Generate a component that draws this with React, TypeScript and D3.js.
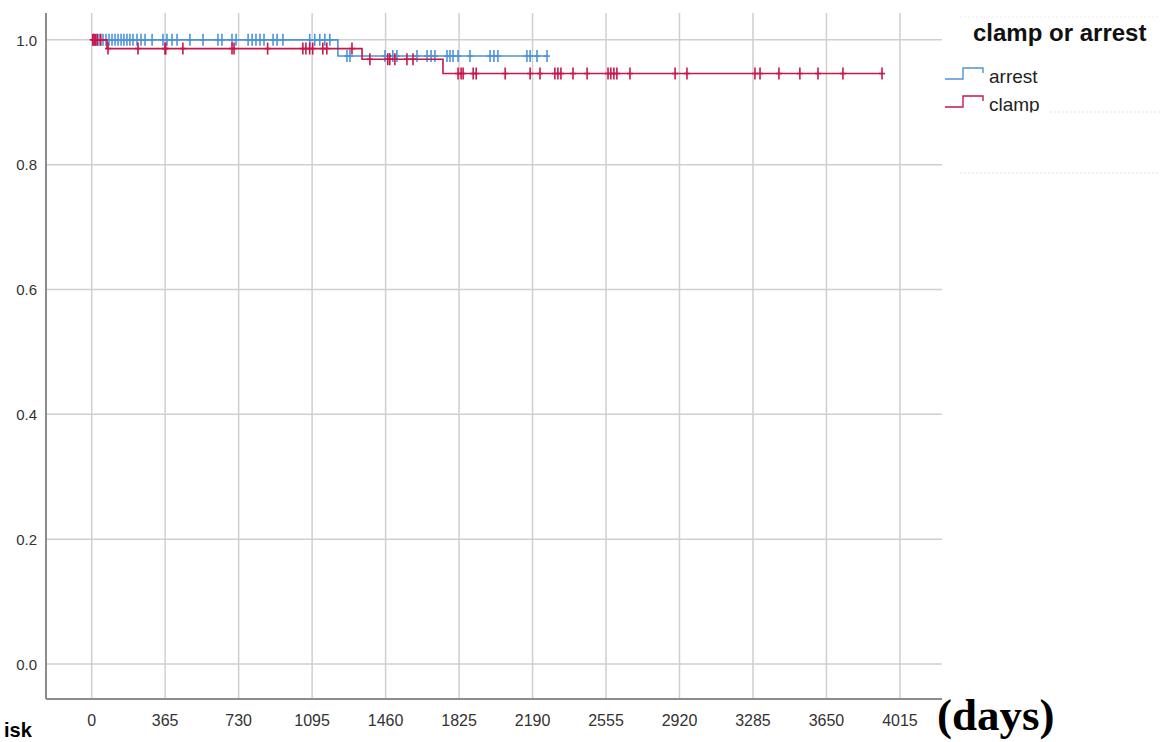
import { useEffect, useRef } from 'react';
import * as d3 from 'd3';

// x axis ticks (days) and y axis ticks (cumulative survival)
const xTicks = [0, 365, 730, 1095, 1460, 1825, 2190, 2555, 2920, 3285, 3650, 4015];
const yTicks = [0, 0.2, 0.4, 0.6, 0.8, 1.0];

// Kaplan-Meier steps: day of event and survival after it
const arrestStepDays = [0, 1223];
const arrestStepSurv = [1.0, 0.974];
const arrestEndDay = 2262;
const arrestCensored = [
  11, 26, 41, 56, 71, 86, 101, 116, 131, 146, 160, 175, 190, 205, 225, 245, 265, 300, 354, 374,
  399, 424, 488, 553, 627, 647, 697, 717, 777, 797, 816, 836, 856, 901, 921, 950, 1083, 1108,
  1133, 1158, 1183, 1268, 1283, 1457, 1496, 1516, 1616, 1666, 1686, 1705, 1765, 1780, 1795,
  1820, 1879, 1979, 1998, 2018, 2162, 2178, 2212, 2262,
];

const clampStepDays = [0, 76, 1343, 1745];
const clampStepSurv = [1.0, 0.986, 0.969, 0.946];
const clampEndDay = 3926;
const clampCensored = [
  5, 12, 20, 30, 45, 81, 230, 364, 368, 453, 697, 707, 874, 1049, 1064, 1083, 1098, 1148, 1168,
  1293, 1382, 1471, 1481, 1506, 1566, 1596, 1820, 1835, 1845, 1895, 1910, 2054, 2178, 2227,
  2301, 2316, 2331, 2391, 2461, 2565, 2579, 2594, 2609, 2674, 2898, 2957, 3295, 3320, 3414,
  3518, 3608, 3732, 3926,
];

const legendTitle = 'clamp or arrest';
const groups = ['arrest', 'clamp'];

const BLUE = '#4d93d9';
const RED = '#c8174a';

const survAt = (days: number[], surv: number[], t: number) => {
  let s = surv[0];
  days.forEach((d, i) => {
    if (t >= d) s = surv[i];
  });
  return s;
};

const App = () => {
  const svgRef = useRef<SVGSVGElement>(null);

  useEffect(() => {
    const svg = d3.select(svgRef.current);
    svg.selectAll('*').remove();

    // plot box
    const left = 46, right = 942, top = 13, bottom = 699;

    const x = d3.scaleLinear().domain([-227, 4224]).range([left, right]);
    const y = d3.scaleLinear().domain([-0.056, 1.043]).range([bottom, top]);

    svg.append('rect').attr('width', 1167).attr('height', 742).attr('fill', '#fff');

    // grid
    svg
      .append('g')
      .selectAll('line')
      .data(xTicks)
      .enter()
      .append('line')
      .attr('x1', (d) => x(d))
      .attr('x2', (d) => x(d))
      .attr('y1', top)
      .attr('y2', bottom)
      .attr('stroke', '#cfcfcf')
      .attr('stroke-width', 1.5);

    svg
      .append('g')
      .selectAll('line')
      .data(yTicks)
      .enter()
      .append('line')
      .attr('x1', left)
      .attr('x2', right)
      .attr('y1', (d) => y(d))
      .attr('y2', (d) => y(d))
      .attr('stroke', '#cfcfcf')
      .attr('stroke-width', 1.5);

    // axes lines
    svg
      .append('line')
      .attr('x1', left)
      .attr('x2', left)
      .attr('y1', top)
      .attr('y2', bottom)
      .attr('stroke', '#8c8c8c')
      .attr('stroke-width', 2);
    svg
      .append('line')
      .attr('x1', left)
      .attr('x2', right)
      .attr('y1', bottom)
      .attr('y2', bottom)
      .attr('stroke', '#8c8c8c')
      .attr('stroke-width', 2);

    // tick labels
    svg
      .append('g')
      .selectAll('text')
      .data(xTicks)
      .enter()
      .append('text')
      .attr('x', (d) => x(d))
      .attr('y', 726)
      .attr('text-anchor', 'middle')
      .style('font-family', 'Liberation Sans, Arial, sans-serif')
      .style('font-size', '16px')
      .attr('fill', '#333')
      .text((d) => d);

    svg
      .append('g')
      .selectAll('text')
      .data(yTicks)
      .enter()
      .append('text')
      .attr('x', 37)
      .attr('y', (d) => y(d))
      .attr('dy', '0.38em')
      .attr('text-anchor', 'end')
      .style('font-family', 'Liberation Sans, Arial, sans-serif')
      .style('font-size', '15px')
      .attr('fill', '#333')
      .text((d) => d3.format('.1f')(d));

    // survival curves
    const line = d3
      .line<[number, number]>()
      .x((d) => x(d[0]))
      .y((d) => y(d[1]))
      .curve(d3.curveStepAfter);

    const drawGroup = (
      days: number[],
      surv: number[],
      endDay: number,
      censored: number[],
      color: string
    ) => {
      const pts: [number, number][] = days.map((d, i) => [d, surv[i]]);
      pts.push([endDay, surv[surv.length - 1]]);
      svg
        .append('path')
        .datum(pts)
        .attr('fill', 'none')
        .attr('stroke', color)
        .attr('stroke-width', 1.6)
        .attr('d', line);

      const marks = svg.append('g').attr('stroke', color).attr('stroke-width', 1.6);
      censored.forEach((t) => {
        const cx = x(t);
        const cy = y(survAt(days, surv, t));
        marks.append('line').attr('x1', cx).attr('x2', cx).attr('y1', cy - 6).attr('y2', cy + 6);
        marks.append('line').attr('x1', cx - 3).attr('x2', cx + 3).attr('y1', cy).attr('y2', cy);
      });
    };

    drawGroup(arrestStepDays, arrestStepSurv, arrestEndDay, arrestCensored, BLUE);
    drawGroup(clampStepDays, clampStepSurv, clampEndDay, clampCensored, RED);

    // legend (the box cuts the last entry off at its bottom)
    svg
      .append('defs')
      .append('clipPath')
      .attr('id', 'legclip')
      .append('rect')
      .attr('x', 940)
      .attr('y', 0)
      .attr('width', 227)
      .attr('height', 112.5);

    const leg = svg.append('g');
    leg
      .append('line')
      .attr('x1', 960)
      .attr('x2', 1160)
      .attr('y1', 17)
      .attr('y2', 17)
      .attr('stroke', '#ececec')
      .attr('stroke-dasharray', '2,2');
    leg
      .append('line')
      .attr('x1', 960)
      .attr('x2', 1160)
      .attr('y1', 173)
      .attr('y2', 173)
      .attr('stroke', '#e3e3e3')
      .attr('stroke-dasharray', '2,2');
    leg
      .append('line')
      .attr('x1', 1050)
      .attr('x2', 1160)
      .attr('y1', 112)
      .attr('y2', 112)
      .attr('stroke', '#e3e3e3')
      .attr('stroke-dasharray', '2,2');

    leg
      .append('text')
      .attr('x', 973)
      .attr('y', 41)
      .style('font-family', 'Liberation Sans, Arial, sans-serif')
      .style('font-size', '24px')
      .style('font-weight', 'bold')
      .attr('fill', '#111')
      .text(legendTitle);

    const items = leg
      .append('g')
      .attr('clip-path', 'url(#legclip)')
      .selectAll('.legend')
      .data(groups)
      .enter()
      .append('g')
      .attr('class', 'legend')
      .attr('transform', (d, i) => `translate(0,${i * 28})`);

    items
      .append('path')
      .attr('d', 'M945,79 H963 V68 H983 V73')
      .attr('fill', 'none')
      .attr('stroke', (d) => (d === 'arrest' ? BLUE : RED))
      .attr('stroke-width', 1.4);

    items
      .append('text')
      .attr('x', 989)
      .attr('y', 83)
      .style('font-family', 'Liberation Sans, Arial, sans-serif')
      .style('font-size', '19px')
      .attr('fill', '#222')
      .text((d) => d);

    // stray labels from the source image
    svg
      .append('text')
      .attr('x', 937)
      .attr('y', 730)
      .style('font-family', 'Liberation Serif, Times New Roman, serif')
      .style('font-size', '45px')
      .style('font-weight', 'bold')
      .attr('fill', '#000')
      .text('(days)');

    svg
      .append('text')
      .attr('x', 4)
      .attr('y', 737)
      .style('font-family', 'Liberation Sans, Arial, sans-serif')
      .style('font-size', '20px')
      .style('font-weight', 'bold')
      .attr('fill', '#000')
      .text('isk');
  }, []);

  return (
    <svg
      ref={svgRef}
      width={1167}
      height={742}
      style={{ position: 'absolute', left: 0, top: 0, display: 'block' }}
    ></svg>
  );
};

export default App;
